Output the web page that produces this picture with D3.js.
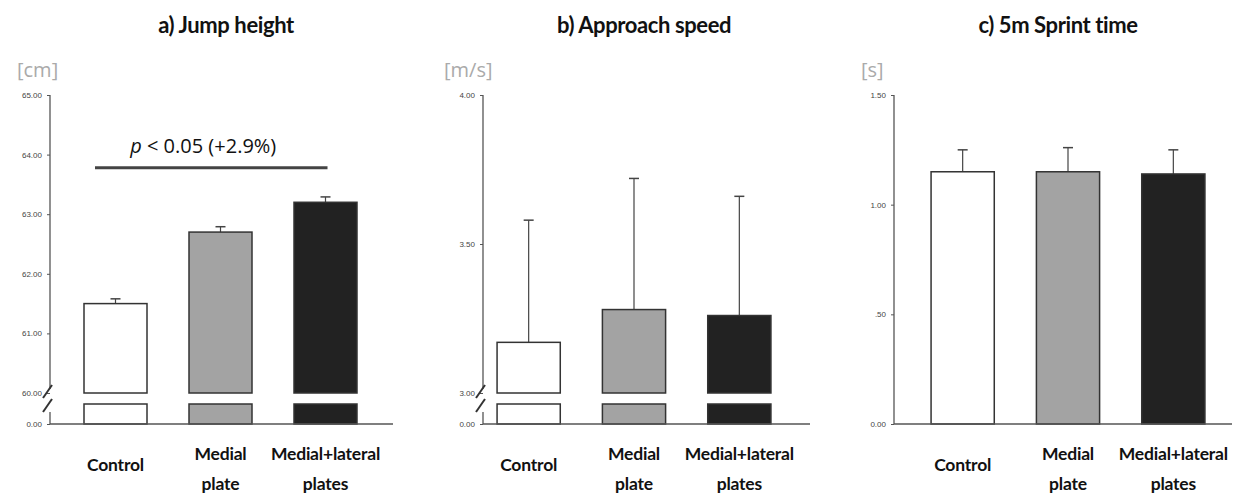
<!DOCTYPE html>
<html>
<head>
<meta charset="utf-8">
<script src="https://cdn.jsdelivr.net/npm/d3@7"></script>
<style>
html,body{margin:0;padding:0;background:#fff;}
svg{display:block;}
</style>
</head>
<body>
<svg id="chart" width="1239" height="496"></svg>
<script>
// ---- data ----
const categories = ["Control", "Medial plate", "Medial+lateral plates"];
const categoryLines = [["Control"], ["Medial", "plate"], ["Medial+lateral", "plates"]];

const jumpMeans = [61.5, 62.7, 63.2];
const jumpErr = [0.08, 0.09, 0.09];
const jumpTicks = [0, 60, 61, 62, 63, 64, 65];
const jumpTickLabels = ["0.00", "60.00", "61.00", "62.00", "63.00", "64.00", "65.00"];

const speedMeans = [3.17, 3.28, 3.26];
const speedErr = [0.41, 0.44, 0.40];
const speedTicks = [0, 3, 3.5, 4];
const speedTickLabels = ["0.00", "3.00", "3.50", "4.00"];

const sprintMeans = [1.15, 1.15, 1.14];
const sprintErr = [0.10, 0.11, 0.11];
const sprintTicks = [0, 0.5, 1, 1.5];
const sprintTickLabels = ["0.00", ".50", "1.00", "1.50"];

const titles = ["a) Jump height", "b) Approach speed", "c) 5m Sprint time"];
const units = ["[cm]", "[m/s]", "[s]"];
const barColors = ["#ffffff", "#a3a3a3", "#222222"];

const sigLabel = {p: "p", rest: " < 0.05 (+2.9%)", from: 0, to: 2, level: 63.78};

// ---- layout ----
const svg = d3.select("#chart");
const Y0 = 424, YBRK = 393, YTOP = 95, STUBTOP = 404;

const panels = [
  {means: jumpMeans, err: jumpErr, ticks: jumpTicks, labels: jumpTickLabels,
   broken: true, lo: 60, hi: 65, axisX: 50, xr: [63, 378], endX: 393,
   title: titles[0], titleX: 226, unit: units[0], unitX: 17},
  {means: speedMeans, err: speedErr, ticks: speedTicks, labels: speedTickLabels,
   broken: true, lo: 3, hi: 4, axisX: 483, xr: [476, 792], endX: 810,
   title: titles[1], titleX: 644, unit: units[1], unitX: 444},
  {means: sprintMeans, err: sprintErr, ticks: sprintTicks, labels: sprintTickLabels,
   broken: false, lo: 0, hi: 1.5, axisX: 894, xr: [910, 1226], endX: 1232,
   title: titles[2], titleX: 1058, unit: units[2], unitX: 861}
];

const axisColor = "#555";

panels.forEach((p, pi) => {
  const g = svg.append("g");
  const y = p.broken
    ? d3.scaleLinear().domain([0, p.lo, p.hi]).range([Y0, YBRK, YTOP])
    : d3.scaleLinear().domain([0, p.hi]).range([Y0, YTOP]);
  const x = d3.scaleBand().domain(categories).range(p.xr).paddingInner(0.4).paddingOuter(0.2);

  // title
  g.append("text").attr("x", p.titleX).attr("y", 33)
    .attr("text-anchor", "middle")
    .style("font-family", "Lato, 'Open Sans', sans-serif")
    .style("font-weight", "bold").style("font-size", "22px").style("fill", "#111")
    .style("letter-spacing", "-0.4px")
    .text(p.title);

  // unit
  g.append("text").attr("x", p.unitX).attr("y", 77)
    .style("font-family", "'Open Sans', Lato, sans-serif")
    .style("font-size", "20px").style("fill", "#aaa")
    .text(p.unit);

  // bars
  const barG = g.append("g");
  p.means.forEach((m, i) => {
    const c = categories[i];
    const bx = x(c), bw = x.bandwidth();
    const base = p.broken ? y(p.lo) : y(0);
    const cx = bx + bw / 2;
    barG.append("line").attr("x1", cx).attr("x2", cx)
      .attr("y1", y(m)).attr("y2", y(m + p.err[i]))
      .attr("stroke", "#444").attr("stroke-width", 1.2);
    barG.append("line").attr("x1", cx - 5).attr("x2", cx + 5)
      .attr("y1", y(m + p.err[i])).attr("y2", y(m + p.err[i]))
      .attr("stroke", "#444").attr("stroke-width", 1.5);
    barG.append("rect").attr("x", bx).attr("y", y(m))
      .attr("width", bw).attr("height", base - y(m))
      .attr("fill", barColors[i]).attr("stroke", "#333").attr("stroke-width", 1.5);
    if (p.broken) {
      barG.append("rect").attr("x", bx).attr("y", STUBTOP)
        .attr("width", bw).attr("height", y(0) - STUBTOP)
        .attr("fill", barColors[i]).attr("stroke", "#333").attr("stroke-width", 1.5);
    }
  });

  // axis
  const axis = d3.axisLeft(y).tickValues(p.ticks)
    .tickFormat((d, i) => p.labels[i]).tickSize(3).tickSizeOuter(0);
  const ag = g.append("g").attr("transform", `translate(${p.axisX},0)`).call(axis);
  ag.select(".domain").remove();
  ag.selectAll(".tick line").attr("stroke", axisColor);
  ag.selectAll(".tick text")
    .style("font-family", "'Liberation Sans', Arial, sans-serif")
    .style("font-size", "8px").style("fill", "#444")
    .attr("x", -8);

  // vertical axis line
  if (p.broken) {
    g.append("line").attr("x1", p.axisX).attr("x2", p.axisX)
      .attr("y1", YTOP).attr("y2", YBRK - 4).attr("stroke", axisColor).attr("stroke-width", 1.3);
    g.append("line").attr("x1", p.axisX).attr("x2", p.axisX)
      .attr("y1", STUBTOP + 8).attr("y2", Y0).attr("stroke", axisColor).attr("stroke-width", 1.3);
    // break marks
    [0, 14].forEach(dy => {
      g.append("line")
        .attr("x1", p.axisX - 7).attr("y1", YBRK + 5 + dy)
        .attr("x2", p.axisX + 2).attr("y2", YBRK - 8 + dy)
        .attr("stroke", "#333").attr("stroke-width", 2);
    });
  } else {
    g.append("line").attr("x1", p.axisX).attr("x2", p.axisX)
      .attr("y1", YTOP).attr("y2", Y0).attr("stroke", axisColor).attr("stroke-width", 1.3);
  }
  // baseline
  g.append("line").attr("x1", p.axisX).attr("x2", p.endX)
    .attr("y1", Y0).attr("y2", Y0).attr("stroke", axisColor).attr("stroke-width", 1.5);

  // category labels
  categoryLines.forEach((lines, i) => {
    const cx = x(categories[i]) + x.bandwidth() / 2;
    const t = g.append("text").attr("text-anchor", "middle")
      .style("font-family", "Lato, 'Open Sans', sans-serif")
      .style("font-weight", "bold").style("font-size", "17.5px").style("fill", "#111")
      .style("letter-spacing", "-0.2px");
    if (lines.length === 1) {
      t.append("tspan").attr("x", cx).attr("y", 471).text(lines[0]);
    } else {
      t.append("tspan").attr("x", cx).attr("y", 460).text(lines[0]);
      t.append("tspan").attr("x", cx).attr("y", 490).text(lines[1]);
    }
  });

  // significance
  if (pi === 0) {
    const yy = y(sigLabel.level);
    const x1 = x(categories[sigLabel.from]) + 11;
    const x2 = x(categories[sigLabel.to]) + x.bandwidth() / 2 + 2;
    g.append("line").attr("x1", x1).attr("x2", x2).attr("y1", yy).attr("y2", yy)
      .attr("stroke", "#444").attr("stroke-width", 3);
    const t = g.append("text").attr("x", (x1 + x2) / 2 - 8).attr("y", yy - 15)
      .attr("text-anchor", "middle")
      .style("font-family", "'Open Sans', Lato, sans-serif")
      .style("font-size", "20px").style("fill", "#111");
    t.append("tspan").style("font-style", "italic").text(sigLabel.p);
    t.append("tspan").text(sigLabel.rest);
  }
});
</script>
</body>
</html>
